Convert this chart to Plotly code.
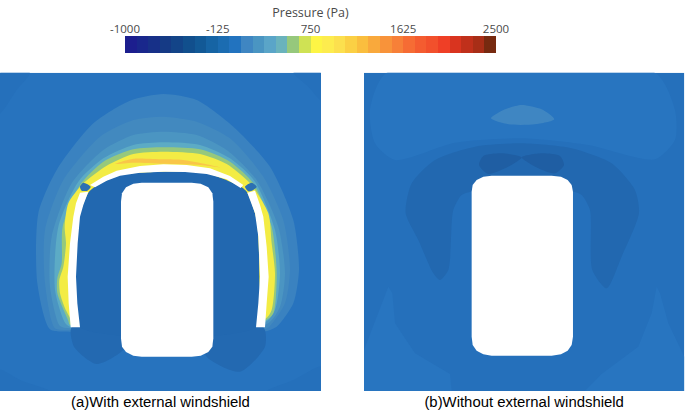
import plotly.graph_objects as go

# Colour bar
bar_levels = [-1000 + 109.375 * (i + 0.5) for i in range(32)]
bar_colors = ["#1c1e8e","#19278c","#173088","#153a85","#134488","#114f8d","#125996","#1664a4","#1b6cb1","#2273bf",
              "#3f86c2","#4a95c2","#5aa5c8","#6ab3bc","#96c87c","#cfe254","#fdf545","#fdec4e","#fce04e","#fbd044",
              "#fabe3e","#f9a93c","#f8933a","#f78038","#f66c34","#f45c30","#f2502c","#ef3f26","#d9341f","#c0301b",
              "#a82e17","#772a10"]
bar_ticks = [-1000, -125, 750, 1625, 2500]
bar_title = "Pressure (Pa)"
caption_a = "(a)With external windshield"
caption_b = "(b)Without external windshield"

BASE = "#2773BE"; DARK = "#2268B0"; DARKER = "#1F5EA3"; MID = "#2570BB"; LITE = "#2875C0"

# Panel (a): pressure contours, outer to inner
a_frame = [(0,8),(963,8),(963,963),(0,963)]
a_corner_tl = [(0,8),(90,8),(50,60),(0,130)]
a_corner_tr = [(963,8),(880,8),(925,50),(963,90)]
a_corner_bl = [(0,900),(60,930),(150,963),(0,963)]
a_corner_br = [(963,890),(880,930),(800,963),(963,963)]
a_band1 = [(150,778),(112,640),(115,430),(170,300),(280,160),(390,92),(490,72),(590,90),(700,170),(810,290),(880,450),(897,600),(880,700),(830,770),(790,785),(210,785)]
a_band2 = [(165,775),(135,640),(135,480),(190,330),(300,200),(400,150),(490,140),(590,155),(690,205),(790,320),(850,450),(870,600),(855,700),(810,768),(790,780),(210,780)]
a_band3 = [(180,768),(150,650),(155,500),(215,340),(310,240),(400,195),(490,185),(590,195),(680,240),(770,330),(835,470),(855,610),(840,710),(800,762),(210,775)]
a_band4 = [(195,758),(165,660),(175,470),(235,335),(310,265),(400,225),(490,217),(600,225),(690,265),(765,335),(825,480),(840,610),(825,720),(795,757),(210,770)]
a_band5 = [(205,752),(172,670),(172,625),(185,580),(188,470),(240,345),(310,275),(400,238),(490,232),(600,238),(690,275),(760,340),(815,470),(830,610),(820,730),(795,752),(210,765)]
a_band6 = [(212,747),(195,715),(180,670),(178,630),(190,590),(198,520),(194,470),(205,400),(250,340),(320,287),(400,252),(490,245),(600,252),(680,282),(750,340),(805,430),(815,520),(825,610),(815,720),(795,747),(220,760)]
a_band7 = [(345,282),(400,266),(490,268),(550,270),(660,292),(600,285),(490,281),(400,278)]
a_inner = [(238,770),(228,620),(235,450),(265,368),(285,350),(360,315),(490,305),(620,310),(725,352),(742,368),(770,450),(778,620),(770,770)]
a_lobe_l = [(215,772),(222,830),(290,882),(370,840),(400,780)]
a_lobe_r = [(790,772),(795,830),(720,905),(620,860),(600,780)]
a_white_top = [(270,345),(310,320),(350,302),(420,288),(490,283),(560,285),(630,295),(690,318),(730,345),(722,354),(680,328),(620,312),(555,306),(490,305),(420,308),(360,317),(320,332),(285,352)]
a_white_left = [(240,368),(265,365),(250,405),(240,440),(233,520),(228,620),(232,700),(240,772),(212,772),(206,700),(203,620),(210,520),(220,440),(228,400)]
a_white_right = [(742,368),(765,362),(780,405),(790,440),(800,530),(806,620),(800,700),(795,772),(768,772),(775,700),(780,620),(775,500),(765,430),(755,400)]
a_notch_l = [(240,350),(250,338),(272,350),(262,362),(245,362)]
a_notch_r = [(735,350),(755,338),(770,350),(760,360),(745,364)]
a_car = [(363,395),(366,370),(378,352),(400,341),(425,338),(575,338),(602,341),(625,352),(637,370),(640,395),(640,805),(637,830),(625,846),(602,857),(575,860),(425,860),(400,857),(378,846),(366,830),(363,805)]

# Panel (b)
b_frame = [(27,8),(988,8),(988,963),(27,963)]
b_top = [(95,8),(45,120),(60,220),(120,270),(300,218),(500,205),(700,225),(900,268),(960,210),(960,120),(900,8)]
b_low_l = [(100,650),(85,690),(27,840),(27,963),(290,963),(285,912),(180,850),(120,760),(112,670)]
b_low_r = [(905,650),(890,730),(850,830),(740,912),(690,963),(988,963),(988,860),(940,760),(915,670)]
b_arch = [(152,430),(170,340),(240,270),(360,230),(500,220),(650,235),(770,280),(840,360),(852,430),(800,560),(755,655),(712,600),(705,420),(680,375),(655,365),(350,365),(320,375),(295,420),(280,600),(255,630),(235,610),(190,510)]
b_ell = [(408,145),(450,118),(500,105),(560,118),(598,148),(540,163),(460,163)]
b_lobe_l = [(372,285),(385,258),(440,250),(500,262),(450,295),(400,312)]
b_lobe_r = [(500,262),(560,250),(615,258),(627,285),(600,310),(550,295)]
b_car = [(350,365),(353,345),(365,330),(385,320),(410,317),(590,317),(618,320),(638,330),(650,345),(654,365),(654,800),(650,825),(638,842),(618,853),(590,857),(410,857),(385,853),(365,842),(353,825),(350,800)]

W, H = 685, 410
fig = go.Figure()

def area(points, color, ax, linear=False):
    fig.add_trace(go.Scatter(
        x=[p[0] for p in points] + [points[0][0]], y=[p[1] for p in points] + [points[0][1]],
        mode="lines", fill="toself", fillcolor=color,
        line=dict(width=0, color=color, shape="linear" if linear else "spline", smoothing=0.7),
        hoverinfo="skip", showlegend=False, xaxis="x" + ax, yaxis="y" + ax))

for pts, col, lin in [
    (a_frame, BASE, True), (a_corner_tl, MID, False), (a_corner_tr, MID, False),
    (a_corner_bl, MID, False), (a_corner_br, MID, False),
    (a_band1, "#3A82C0", False), (a_band2, "#4289BF", False), (a_band3, "#4B95C2", False),
    (a_band4, "#5CABC5", False), (a_band5, "#96C87C", False), (a_band6, "#F3EC44", False),
    (a_band7, "#F9C648", False),
    (a_lobe_l, "#2369B1", False), (a_lobe_r, "#2369B1", False), (a_inner, DARK, False),
    (a_white_top, "#FFFFFF", True), (a_white_left, "#FFFFFF", True), (a_white_right, "#FFFFFF", True),
    (a_notch_l, "#2C70B2", False), (a_notch_r, "#2C70B2", False), (a_car, "#FFFFFF", True)]:
    area(pts, col, "", lin)

for pts, col, lin in [
    (b_frame, MID, True), (b_top, LITE, False), (b_low_l, LITE, True), (b_low_r, LITE, True),
    (b_arch, DARK, False), (b_ell, "#3F86C2", False),
    (b_lobe_l, DARKER, False), (b_lobe_r, DARKER, False), (b_car, "#FFFFFF", True)]:
    area(pts, col, "2", lin)

n = len(bar_colors)
cs = []
for i, c in enumerate(bar_colors):
    cs += [[i / n, c], [(i + 1) / n, c]]
fig.add_trace(go.Heatmap(x=bar_levels, y=[0], z=[bar_levels], zmin=-1000, zmax=2500,
                         colorscale=cs, showscale=False, hoverinfo="skip", xaxis="x3", yaxis="y3"))

def dom(a, b, total):
    return [a / total, b / total]

hidden = dict(showgrid=False, zeroline=False, showline=False, ticks="", showticklabels=False, fixedrange=True, automargin=False)
cap = dict(family="Liberation Sans, Arial", size=14.9, color="#000000")
fig.update_layout(
    width=W, height=H, margin=dict(l=0, r=0, t=0, b=0, autoexpand=False),
    paper_bgcolor="#FFFFFF", plot_bgcolor="#FFFFFF", showlegend=False,
    xaxis=dict(domain=dom(0, 321, W), range=[0, 963], title=dict(text=caption_a, font=cap, standoff=5), **hidden),
    yaxis=dict(domain=dom(H - 391, H - 72.7, H), range=[963, 8], **hidden),
    xaxis2=dict(domain=dom(364, 684.3, W), range=[27, 988], anchor="y2", title=dict(text=caption_b, font=cap, standoff=5), **hidden),
    yaxis2=dict(domain=dom(H - 391, H - 72.7, H), range=[963, 8], anchor="x2", **hidden),
    xaxis3=dict(domain=dom(125, 496, W), range=[-1000, 2500], anchor="y3", side="top", automargin=False,
                tickvals=bar_ticks, ticktext=[str(t) for t in bar_ticks], ticks="", 
                tickfont=dict(family="Open Sans", size=11.5, color="#4a4a4a"),
                title=dict(text=bar_title, font=dict(family="Open Sans", size=12.5, color="#4a4a4a"), standoff=0),
                showgrid=False, zeroline=False, showline=False, fixedrange=True),
    yaxis3=dict(domain=dom(H - 53, H - 36, H), range=[-0.5, 0.5], anchor="x3", **hidden),
)
fig.write_html("out.html", config={"displayModeBar": False},
               post_script="document.body.style.margin='0';document.documentElement.style.overflow='hidden';")
